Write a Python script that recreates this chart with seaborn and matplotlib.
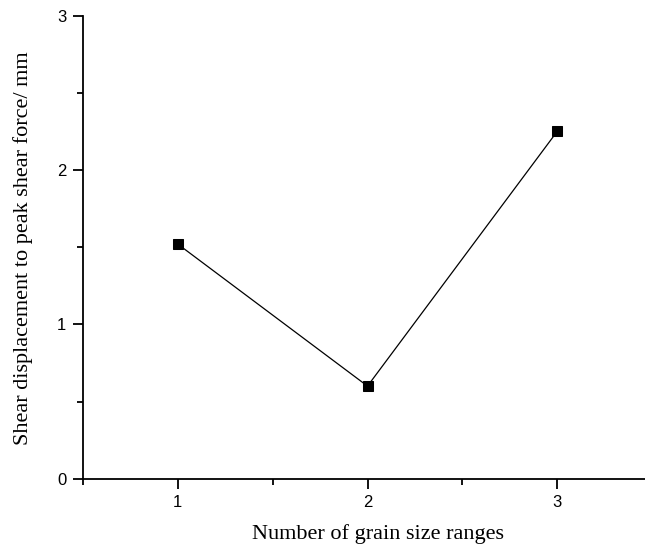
import matplotlib
matplotlib.use("Agg")
import matplotlib.pyplot as plt
from matplotlib.ticker import MultipleLocator
import seaborn as sns
import pandas as pd

# Number of grain size ranges vs. shear displacement at peak shear force
grain_ranges = [1, 2, 3]
displacement_mm = [1.52, 0.60, 2.25]

x_label = "Number of grain size ranges"
y_label = "Shear displacement to peak shear force/ mm"

sns.set_theme(style="ticks")
plt.rcParams["font.family"] = ["Liberation Sans", "DejaVu Sans"]
plt.rcParams["text.color"] = "black"
plt.rcParams["axes.labelcolor"] = "black"

df = pd.DataFrame({"n": grain_ranges, "d": displacement_mm})

fig = plt.figure(figsize=(6.45, 5.49), dpi=100)
W, H = 645, 549
left, right, top, bottom = 83, 652, 15.7, 478.7
ax = fig.add_axes([left / W, 1 - bottom / H, (right - left) / W, (bottom - top) / H])

sns.lineplot(data=df, x="n", y="d", ax=ax, color="black", linewidth=0.9,
             marker="s", markersize=7, markeredgecolor="black",
             markerfacecolor="black")

ax.set_xlim(0.5, 3.5)
ax.set_ylim(0, 3)
ax.xaxis.set_major_locator(MultipleLocator(1))
ax.xaxis.set_minor_locator(MultipleLocator(0.5))
ax.yaxis.set_major_locator(MultipleLocator(1))
ax.yaxis.set_minor_locator(MultipleLocator(0.5))
ax.set_xticks([1, 2, 3])
ax.set_yticks([0, 1, 2, 3])

for s in ("top", "right"):
    ax.spines[s].set_visible(False)
for s in ("left", "bottom"):
    ax.spines[s].set_linewidth(1.3)
    ax.spines[s].set_color("black")

ax.tick_params(which="major", direction="out", length=7, width=1.3,
               colors="black", labelcolor="black", labelsize=12, pad=5)
ax.tick_params(which="minor", direction="out", length=4, width=1.3,
               colors="black")

ax.set_xlabel(x_label, fontfamily="Liberation Serif", fontsize=16, color="black")
ax.set_ylabel(y_label, fontfamily="Liberation Serif", fontsize=16, color="black")
ax.xaxis.set_label_coords(0.518, -0.12, transform=ax.transAxes)
ax.yaxis.set_label_coords(-0.106, 0.497, transform=ax.transAxes)
ax.xaxis.label.set_verticalalignment("center")
ax.yaxis.label.set_verticalalignment("center")

fig.savefig("out.png", dpi=100)
